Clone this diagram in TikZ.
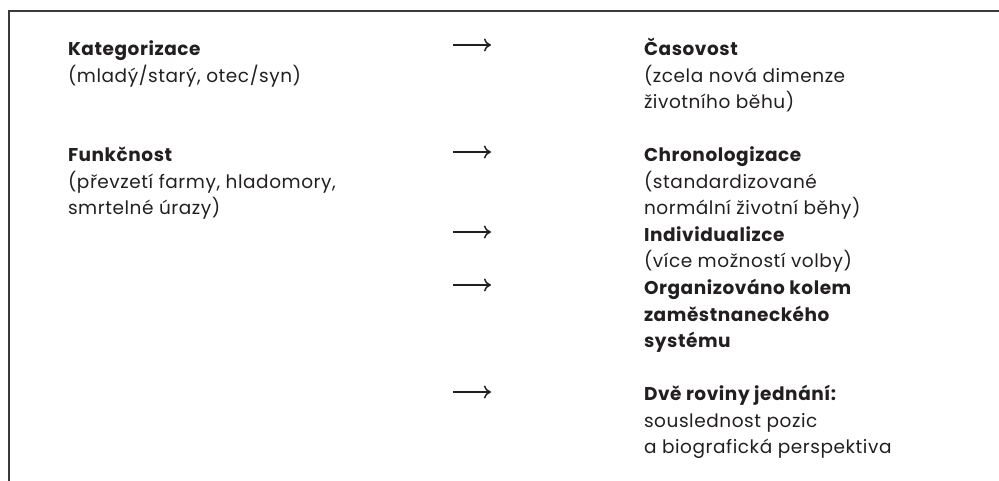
\documentclass[tikz,border=0pt]{standalone}
\usepackage{fontspec}
\setmainfont{Poppins}[LetterSpace=3.0]
\usetikzlibrary{arrows.meta}
\definecolor{ink}{HTML}{231F20}
\definecolor{framecol}{HTML}{3A3A3A}
\newcommand{\blk}[1]{\begin{tabular}[t]{@{}l@{}}#1\end{tabular}}
\tikzset{
  txt/.style={anchor=base west, inner sep=0pt, outer sep=0pt,
    font=\fontsize{18.5}{26.5}\selectfont, text=ink},
  arr/.style={line width=1.5pt, draw=ink, -{To[length=7pt,width=13pt]}},
  framestyle/.style={line width=1.7pt, draw=framecol}
}
\begin{document}
\begin{tikzpicture}[x=1pt, y=-1pt]
\useasboundingbox (0,0) rectangle (999,481);
% frame
\coordinate (fr1) at (999,11);
\coordinate (fr2) at (9,11);
\coordinate (fr3) at (9,481);
\draw[framestyle] (fr1) -- (fr2) -- (fr3);
% left column
\node[txt] (kat) at (68,56) {\blk{\textbf{Kategorizace}\\(mladý/starý, otec/syn)}};
\node[txt] (fun) at (68,162) {\blk{\textbf{Funkčnost}\\(převzetí farmy, hladomory,\\smrtelné úrazy)}};
% right column
\node[txt] (cas) at (644,56) {\blk{\textbf{Časovost}\\(zcela nová dimenze\\životního běhu)}};
\node[txt] (chr) at (644,162) {\blk{\textbf{Chronologizace}\\(standardizované\\normální životní běhy)}};
\node[txt] (ind) at (644,241.5) {\blk{\textbf{Individualizce}\\(více možností volby)}};
\node[txt] (org) at (644,294.5) {\blk{\textbf{Organizováno kolem}\\\textbf{zaměstnaneckého}\\\textbf{systému}}};
\node[txt] (dve) at (644,400.5) {\blk{\textbf{Dvě roviny jednání:}\\souslednost pozic\\a biografická perspektiva}};
% arrows
\foreach \n/\y in {1/45,2/152,3/232,4/285,5/392}{
  \coordinate (a\n s) at (453,\y);
  \coordinate (a\n e) at (491,\y);
}
\draw[arr] (a1s) -- (a1e);
\draw[arr] (a2s) -- (a2e);
\draw[arr] (a3s) -- (a3e);
\draw[arr] (a4s) -- (a4e);
\draw[arr] (a5s) -- (a5e);
\end{tikzpicture}
\end{document}
